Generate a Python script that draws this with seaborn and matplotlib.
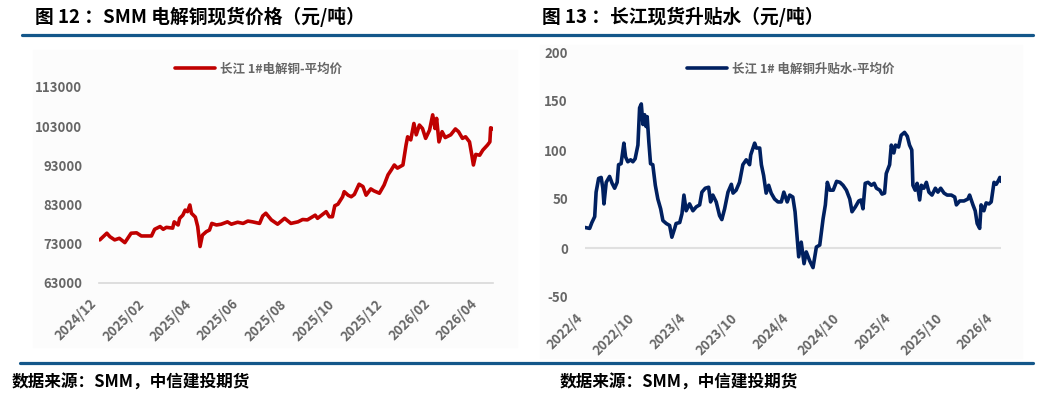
import pandas as pd
import seaborn as sns
import matplotlib.pyplot as plt
import matplotlib.dates as mdates
from matplotlib.patches import Rectangle
from matplotlib.lines import Line2D

# 图12：SMM 电解铜现货价格（元/吨）
price_dates = [
    '2024-12-02', '2024-12-11', '2024-12-15', '2024-12-21', '2024-12-27', '2025-01-03',
    '2025-01-11', '2025-01-18', '2025-01-24', '2025-02-06', '2025-02-10', '2025-02-17',
    '2025-02-21', '2025-02-25', '2025-03-05', '2025-03-07', '2025-03-12', '2025-03-14',
    '2025-03-18', '2025-03-21', '2025-03-24', '2025-03-27', '2025-03-29', '2025-04-03',
    '2025-04-06', '2025-04-09', '2025-04-12', '2025-04-17', '2025-04-21', '2025-04-24',
    '2025-04-30', '2025-05-06', '2025-05-14', '2025-05-19', '2025-05-27', '2025-06-03',
    '2025-06-09', '2025-06-15', '2025-06-24', '2025-06-28', '2025-07-02', '2025-07-09',
    '2025-07-17', '2025-07-26', '2025-08-03', '2025-08-12', '2025-08-18', '2025-08-24',
    '2025-09-03', '2025-09-06', '2025-09-17', '2025-09-21', '2025-09-25', '2025-09-28',
    '2025-10-02', '2025-10-08', '2025-10-10', '2025-10-15', '2025-10-19', '2025-10-23',
    '2025-10-29', '2025-11-03', '2025-11-07', '2025-11-13', '2025-11-17', '2025-11-24',
    '2025-11-30', '2025-12-05', '2025-12-09', '2025-12-13', '2025-12-17', '2025-12-24',
    '2025-12-28', '2025-12-30', '2026-01-03', '2026-01-07', '2026-01-10', '2026-01-14',
    '2026-01-18', '2026-01-22', '2026-01-27', '2026-01-31', '2026-02-03', '2026-02-05',
    '2026-02-08', '2026-02-12', '2026-02-16', '2026-02-23', '2026-03-01', '2026-03-05',
    '2026-03-10', '2026-03-14', '2026-03-19', '2026-03-22', '2026-03-24', '2026-03-27',
    '2026-04-01', '2026-04-05', '2026-04-11', '2026-04-14', '2026-04-15', '2026-04-18',
]
price_values = [
    74000, 75700, 74800, 74000, 74400, 73300,
    75700, 75800, 75000, 75000, 76700, 77400,
    76700, 77200, 77000, 78600, 77800, 79500,
    80300, 81600, 81200, 82900, 80800, 79800,
    77400, 72300, 75200, 76100, 76500, 78200,
    77800, 78000, 78600, 78000, 78500, 78200,
    78800, 78600, 78200, 80100, 80800, 79100,
    78000, 79500, 78200, 78600, 79200, 79100,
    80300, 79500, 81200, 79900, 79900, 82700,
    83100, 85000, 86300, 85400, 85000, 85600,
    88200, 87600, 85400, 87000, 86500, 85900,
    88000, 90600, 91800, 93100, 92300, 93100,
    98200, 100300, 99500, 103700, 100800, 103300,
    102400, 99900, 102000, 105900, 102400, 105000,
    99000, 101600, 100100, 100800, 102300, 101600,
    99900, 100300, 99000, 95600, 93100, 95800,
    95600, 96900, 98200, 99000, 102600, 102300,
]

# 图13：长江现货升贴水（元/吨）
basis_dates = [
    '2022-03-27', '2022-04-14', '2022-04-22', '2022-05-02', '2022-05-07', '2022-05-16',
    '2022-05-25', '2022-05-31', '2022-06-04', '2022-06-12', '2022-06-24', '2022-07-03',
    '2022-07-12', '2022-07-21', '2022-07-26', '2022-08-04', '2022-08-14', '2022-08-20',
    '2022-08-28', '2022-09-07', '2022-09-15', '2022-09-23', '2022-10-03', '2022-10-09',
    '2022-10-15', '2022-10-21', '2022-10-27', '2022-11-01', '2022-11-05', '2022-11-11',
    '2022-11-17', '2022-11-25', '2022-12-04', '2022-12-13', '2022-12-23', '2022-12-31',
    '2023-01-12', '2023-01-24', '2023-02-01', '2023-02-11', '2023-02-16', '2023-03-01',
    '2023-03-09', '2023-03-16', '2023-03-24', '2023-04-05', '2023-04-17', '2023-04-29',
    '2023-05-11', '2023-05-19', '2023-05-31', '2023-06-12', '2023-06-19', '2023-06-27',
    '2023-07-09', '2023-07-21', '2023-07-29', '2023-08-08', '2023-08-20', '2023-09-01',
    '2023-09-07', '2023-09-18', '2023-09-30', '2023-10-12', '2023-10-24', '2023-11-05',
    '2023-11-09', '2023-11-23', '2023-11-29', '2023-12-11', '2023-12-17', '2023-12-25',
    '2024-01-03', '2024-01-12', '2024-01-21', '2024-02-02', '2024-02-14', '2024-02-26',
    '2024-03-06', '2024-03-18', '2024-03-27', '2024-04-07', '2024-04-15', '2024-04-23',
    '2024-04-28', '2024-05-07', '2024-05-17', '2024-05-25', '2024-06-06', '2024-06-18',
    '2024-06-30', '2024-07-12', '2024-07-24', '2024-08-01', '2024-08-08', '2024-08-17',
    '2024-08-29', '2024-09-10', '2024-09-22', '2024-10-03', '2024-10-15', '2024-10-27',
    '2024-11-04', '2024-11-16', '2024-11-28', '2024-12-06', '2024-12-13', '2024-12-21',
    '2024-12-31', '2025-01-12', '2025-01-22', '2025-01-30', '2025-02-11', '2025-02-19',
    '2025-02-28', '2025-03-06', '2025-03-18', '2025-03-24', '2025-04-02', '2025-04-08',
    '2025-04-19', '2025-04-28', '2025-05-10', '2025-05-20', '2025-05-28', '2025-06-05',
    '2025-06-09', '2025-06-17', '2025-06-24', '2025-07-03', '2025-07-09', '2025-07-18',
    '2025-07-27', '2025-08-05', '2025-08-16', '2025-08-28', '2025-09-06', '2025-09-16',
    '2025-09-28', '2025-10-09', '2025-10-24', '2025-11-05', '2025-11-11', '2025-11-23',
    '2025-12-08', '2025-12-22', '2025-12-28', '2026-01-09', '2026-01-17', '2026-01-24',
    '2026-02-02', '2026-02-07', '2026-02-17', '2026-02-25', '2026-03-07', '2026-03-15',
    '2026-03-25', '2026-04-02', '2026-04-10', '2026-04-15', '2026-04-19',
]
basis_values = [
    21, 20, 26, 32, 57, 71,
    72, 61, 45, 67, 73, 66,
    61, 67, 85, 86, 107, 93,
    88, 90, 88, 91, 105, 143,
    147, 126, 136, 124, 134, 108,
    86, 85, 64, 50, 40, 28,
    25, 23, 11, 20, 25, 26,
    35, 54, 38, 45, 38, 42,
    44, 57, 61, 62, 47, 54,
    47, 33, 29, 40, 57, 65,
    56, 59, 67, 85, 90, 85,
    95, 107, 102, 102, 85, 74,
    56, 64, 56, 50, 47, 47,
    57, 47, 54, 52, 37, 9,
    -9, 6, -16, -4, -13, -20,
    1, 3, 30, 44, 67, 59,
    59, 68, 67, 64, 59, 50,
    37, 42, 48, 49, 40, 66,
    67, 64, 66, 61, 59, 55,
    56, 76, 85, 105, 97, 105,
    103, 115, 118, 114, 105, 100,
    64, 59, 66, 49, 64, 61,
    67, 57, 54, 61, 57, 61,
    56, 54, 54, 52, 44, 48,
    48, 50, 54, 44, 38, 25,
    20, 44, 38, 46, 45, 47,
    67, 65, 69, 72, 68,
]

price_ticks = ['2024-12-01', '2025-02-01', '2025-04-01', '2025-06-01', '2025-08-01',
               '2025-10-01', '2025-12-01', '2026-02-01', '2026-04-01']
basis_ticks = ['2022-04-01', '2022-10-01', '2023-04-01', '2023-10-01', '2024-04-01',
               '2024-10-01', '2025-04-01', '2025-10-01', '2026-04-01']

df_price = pd.DataFrame({'date': pd.to_datetime(price_dates), 'value': price_values})
df_basis = pd.DataFrame({'date': pd.to_datetime(basis_dates), 'value': basis_values})

sns.set_style('white')
plt.rcParams['font.family'] = ['Noto Sans CJK SC', 'DejaVu Sans']
plt.rcParams['axes.unicode_minus'] = False

W, H = 1051, 397
fig = plt.figure(figsize=(W / 100, H / 100), dpi=100)


def box(x0, y0, x1, y1):
    # caja en pixeles (origen arriba-izquierda) -> fraccion de figura
    return [x0 / W, 1 - y1 / H, (x1 - x0) / W, (y1 - y0) / H]


gray_txt = '#666666'
rule_blue = '#14578A'

# fondos muy claros de las dos graficas
for x0, y0, x1, y1 in [(33, 50, 517, 347), (540, 45, 1022, 358)]:
    fig.patches.append(Rectangle((x0 / W, 1 - y1 / H), (x1 - x0) / W, (y1 - y0) / H,
                                 transform=fig.transFigure, color='#fcfcfc', zorder=-10))

# lineas azules arriba y abajo
fig.add_artist(Line2D([22 / W, 1033 / W], [1 - 35 / H] * 2, color=rule_blue, lw=2.3))
fig.add_artist(Line2D([20 / W, 1033 / W], [1 - 363 / H] * 2, color=rule_blue, lw=2.3))

# titulos
fig.text(35 / W, 1 - 17 / H, '图 12 ：SMM 电解铜现货价格（元/吨）',
         fontsize=13.5, fontweight='heavy', va='center', color='black')
fig.text(542 / W, 1 - 17 / H, '图 13 ：长江现货升贴水（元/吨）',
         fontsize=13.5, fontweight='heavy', va='center', color='black')

# fuente
fig.text(12 / W, 1 - 383 / H, '数据来源：SMM，中信建投期货',
         fontsize=12, fontweight='bold', va='center', color='black')
fig.text(560 / W, 1 - 383 / H, '数据来源：SMM，中信建投期货',
         fontsize=12, fontweight='bold', va='center', color='black')

# ---- grafica izquierda ----
ax1 = fig.add_axes(box(99, 87, 493, 283))
ax1.patch.set_alpha(0)
sns.lineplot(data=df_price, x='date', y='value', ax=ax1, color='#C00000',
             lw=2.6, label='长江 1#电解铜-平均价')
ax1.set_ylim(63000, 113000)
ax1.set_yticks(range(63000, 113001, 10000))
ax1.set_xlim(pd.Timestamp('2024-12-01'), pd.Timestamp('2026-04-18'))
ax1.set_xticks(pd.to_datetime(price_ticks))
ax1.xaxis.set_major_formatter(mdates.DateFormatter('%Y/%m'))
sns.despine(ax=ax1, left=True, top=True, right=True)
ax1.spines['bottom'].set_color('#d9d9d9')
ax1.spines['bottom'].set_linewidth(1.2)
ax1.tick_params(axis='y', length=0, pad=12, labelsize=9.5, labelcolor=gray_txt)
ax1.tick_params(axis='x', length=4, width=1.2, color='#d9d9d9', pad=6,
                labelsize=9.5, labelcolor=gray_txt)
ax1.set_xlabel('')
ax1.set_ylabel('')
leg1 = ax1.legend(loc='center', bbox_to_anchor=(0.406, 1.092), frameon=False,
                  handlelength=3.2, handletextpad=0.4, prop={'size': 9, 'weight': 'bold'})
for t in leg1.get_texts():
    t.set_color(gray_txt)

# ---- grafica derecha ----
ax2 = fig.add_axes(box(584.6, 52, 1001.3, 297))
ax2.patch.set_alpha(0)
ax2.axhline(0, color='#e0e0e0', lw=1.5, zorder=0)
sns.lineplot(data=df_basis, x='date', y='value', ax=ax2, color='#002060',
             lw=2.6, label='长江 1# 电解铜升贴水-平均价')
ax2.set_ylim(-50, 200)
ax2.set_yticks(range(-50, 201, 50))
ax2.set_xlim(pd.Timestamp('2022-03-27'), pd.Timestamp('2026-04-20'))
bt = pd.to_datetime(basis_ticks)
ax2.set_xticks(bt)
ax2.set_xticklabels([f'{d.year}/{d.month}' for d in bt])
sns.despine(ax=ax2, left=True, top=True, right=True, bottom=True)
ax2.tick_params(axis='y', length=0, pad=12, labelsize=9.5, labelcolor=gray_txt)
ax2.tick_params(axis='x', length=0, pad=10, labelsize=9.5, labelcolor=gray_txt)
ax2.set_xlabel('')
ax2.set_ylabel('')
leg2 = ax2.legend(loc='center', bbox_to_anchor=(0.494, 0.931), frameon=False,
                  handlelength=3.2, handletextpad=0.4, prop={'size': 9, 'weight': 'bold'})
for t in leg2.get_texts():
    t.set_color(gray_txt)

for ax in (ax1, ax2):
    for lab in ax.get_xticklabels():
        lab.set_rotation(45)
        lab.set_ha('right')
        lab.set_fontweight('bold')
    for lab in ax.get_yticklabels():
        lab.set_fontweight('bold')

fig.savefig('out.png', dpi=100)
